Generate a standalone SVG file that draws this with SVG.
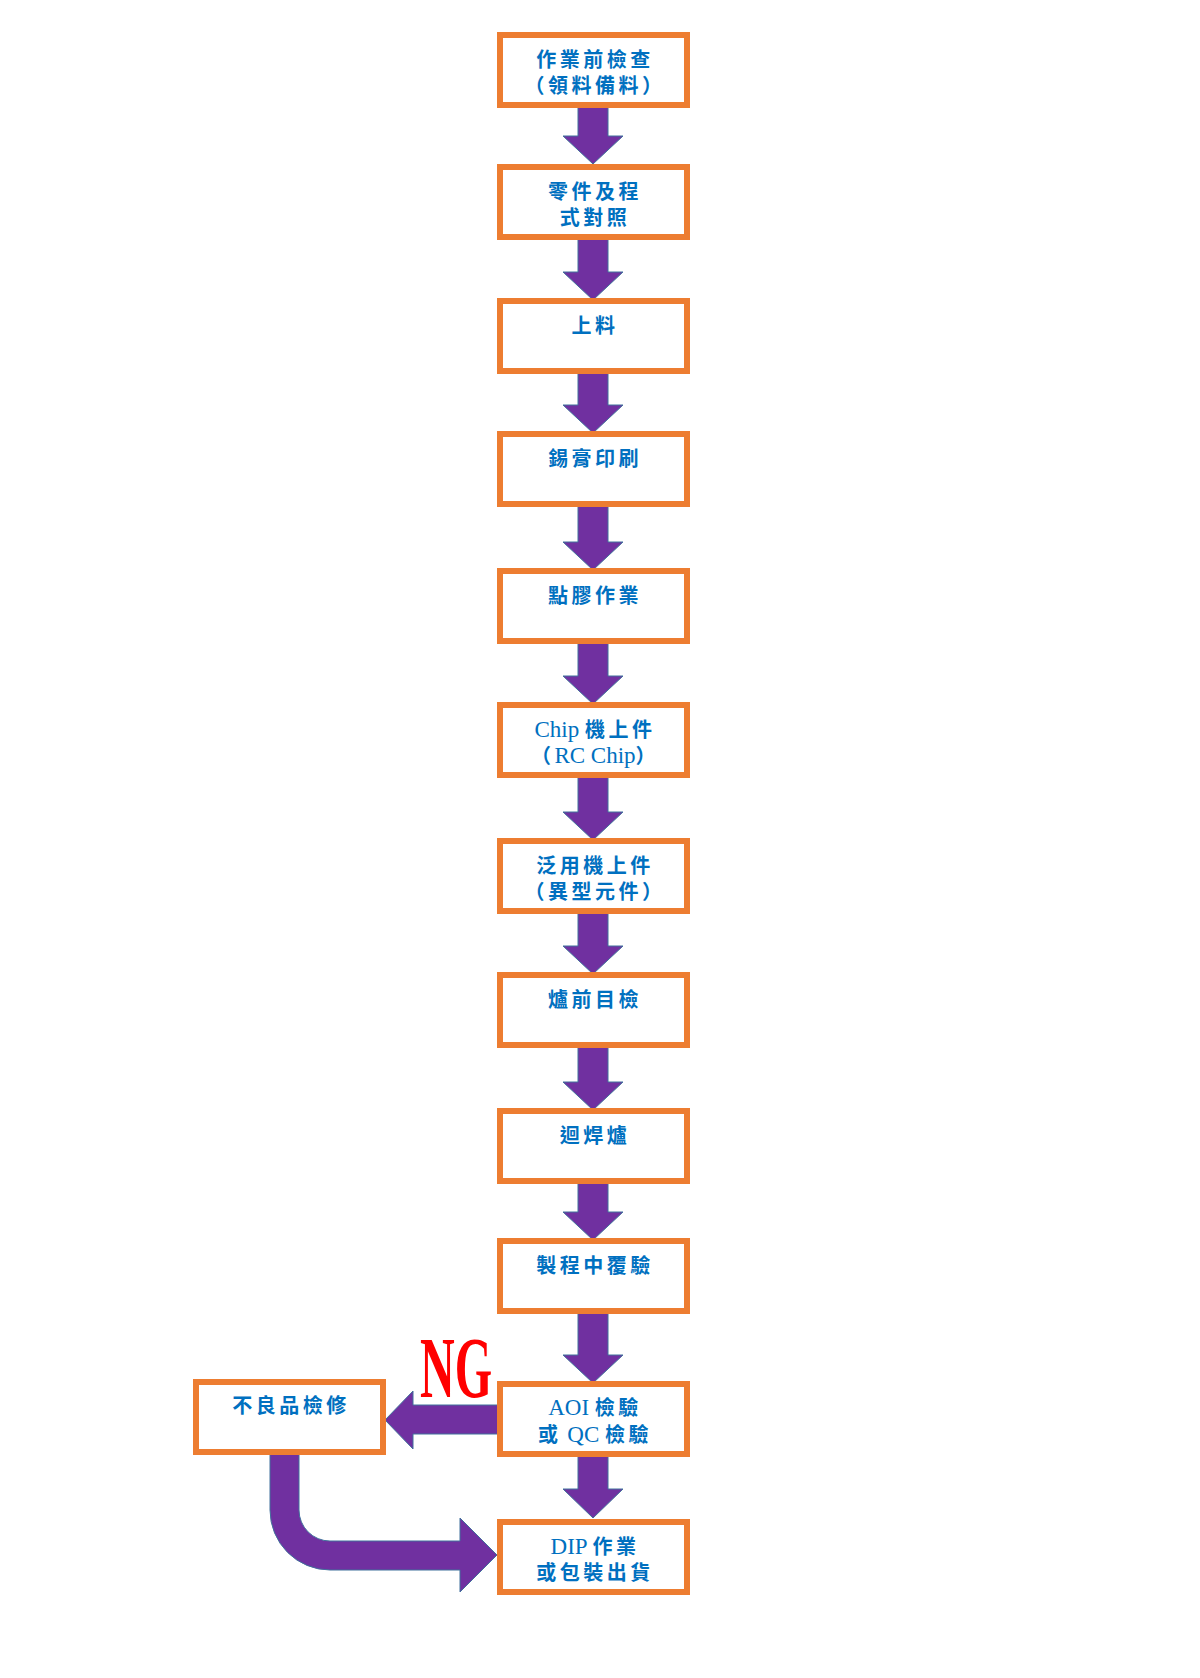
<svg xmlns="http://www.w3.org/2000/svg" width="1200" height="1678" viewBox="0 0 1200 1678">
<style>
.box{fill:#fff;stroke:#ED7D31;stroke-width:6}
.t{font-family:"Liberation Serif","Noto Sans CJK TC",serif;font-weight:bold;font-size:20px;fill:#0070C0;text-anchor:middle;letter-spacing:3.5px}
.l{font-weight:normal;font-size:23px;letter-spacing:0}
.arr{fill:#7030A0;stroke:#41719C;stroke-width:1}
.ng{font-family:"Liberation Serif",serif;font-weight:bold;font-size:86px;fill:#FF0000}
</style>
<rect width="1200" height="1678" fill="#fff"/>
<g id="connectors">
<path class="arr" d="M578,102H608V136H623L593,164L563,136H578Z"/>
<path class="arr" d="M578,234H608V272H623L593,300L563,272H578Z"/>
<path class="arr" d="M578,368H608V405H623L593,433L563,405H578Z"/>
<path class="arr" d="M578,501H608V542H623L593,570L563,542H578Z"/>
<path class="arr" d="M578,638H608V676H623L593,704L563,676H578Z"/>
<path class="arr" d="M578,772H608V812H623L593,840L563,812H578Z"/>
<path class="arr" d="M578,908H608V946H623L593,974L563,946H578Z"/>
<path class="arr" d="M578,1042H608V1082H623L593,1110L563,1082H578Z"/>
<path class="arr" d="M578,1178H608V1212H623L593,1240L563,1212H578Z"/>
<path class="arr" d="M578,1308H608V1355H623L593,1383L563,1355H578Z"/>
<path class="arr" d="M578,1453H608V1489H623L593,1518L563,1489H578Z"/>
<path class="arr" d="M501,1405H413V1391L385,1420L413,1449V1434H501Z"/>
<path class="arr" stroke="none" d="M270,1449H299V1510A31,31 0 0 0 330,1541H460V1518L497,1555L460,1592V1570H330A60,60 0 0 1 270,1510Z"/>
</g>
<g id="n1"><rect class="box" x="500" y="35" width="187" height="70"/><text class="t" x="595" y="67">作業前檢查</text><text class="t" x="595" y="93">（領料備料）</text></g>
<g id="n2"><rect class="box" x="500" y="167" width="187" height="70"/><text class="t" x="595" y="199">零件及程</text><text class="t" x="595" y="225">式對照</text></g>
<g id="n3"><rect class="box" x="500" y="301" width="187" height="70"/><text class="t" x="595" y="333">上料</text></g>
<g id="n4"><rect class="box" x="500" y="434" width="187" height="70"/><text class="t" x="595" y="466">錫膏印刷</text></g>
<g id="n5"><rect class="box" x="500" y="571" width="187" height="70"/><text class="t" x="595" y="603">點膠作業</text></g>
<g id="n6"><rect class="box" x="500" y="705" width="187" height="70"/><text class="t" x="595" y="737"><tspan class="l">Chip </tspan>機上件</text><text class="t" x="595" y="763">（<tspan class="l">RC Chip</tspan>）</text></g>
<g id="n7"><rect class="box" x="500" y="841" width="187" height="70"/><text class="t" x="595" y="873">泛用機上件</text><text class="t" x="595" y="899">（異型元件）</text></g>
<g id="n8"><rect class="box" x="500" y="975" width="187" height="70"/><text class="t" x="595" y="1007">爐前目檢</text></g>
<g id="n9"><rect class="box" x="500" y="1111" width="187" height="70"/><text class="t" x="595" y="1143">迴焊爐</text></g>
<g id="n10"><rect class="box" x="500" y="1241" width="187" height="70"/><text class="t" x="595" y="1273">製程中覆驗</text></g>
<g id="n11"><rect class="box" x="500" y="1384" width="187" height="70"/><text class="t" x="595" y="1415"><tspan class="l">AOI </tspan>檢驗</text><text class="t" x="595" y="1442">或<tspan class="l"> QC </tspan>檢驗</text></g>
<g id="n12"><rect class="box" x="500" y="1522" width="187" height="70"/><text class="t" x="595" y="1554"><tspan class="l">DIP </tspan>作業</text><text class="t" x="595" y="1580">或包裝出貨</text></g>
<g id="n13"><rect class="box" x="196" y="1382" width="187" height="70"/><text class="t" x="291" y="1413">不良品檢修</text></g>
<g id="ng"><text class="ng" x="420" y="1397" textLength="72" lengthAdjust="spacingAndGlyphs">NG</text></g>
</svg>
